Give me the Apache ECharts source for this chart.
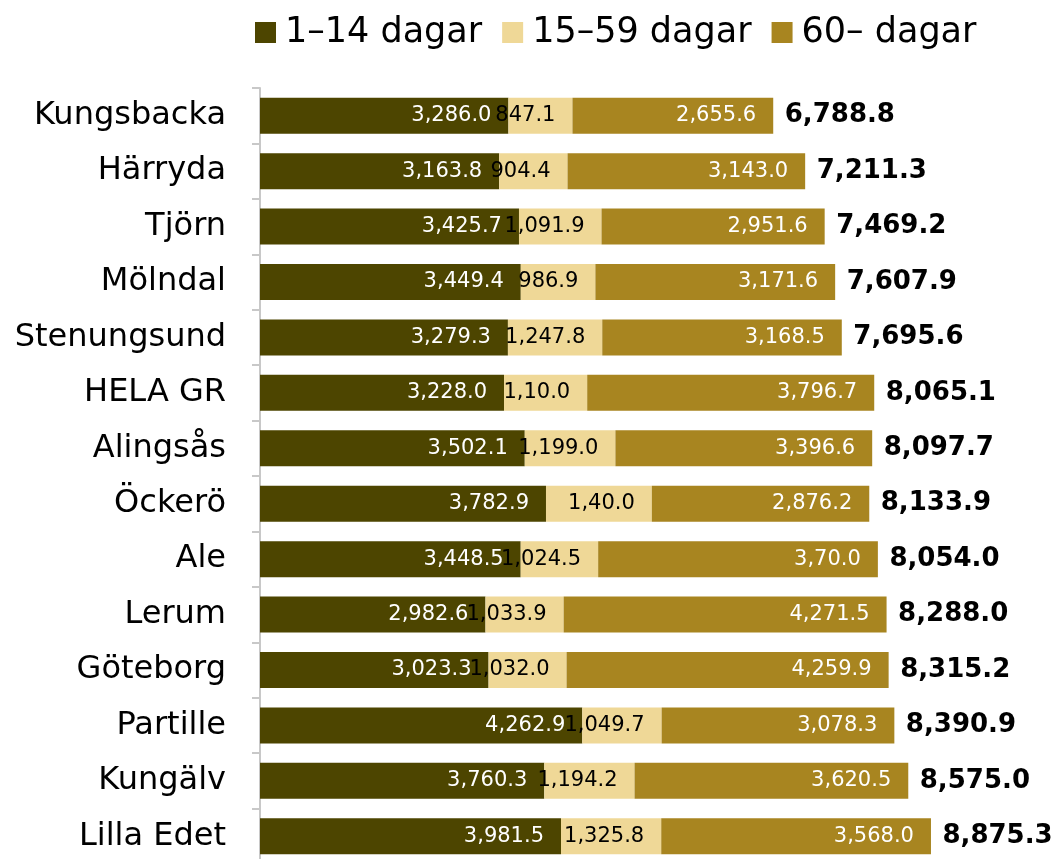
<!DOCTYPE html>
<html>
<head>
<meta charset="utf-8">
<script src="https://cdn.jsdelivr.net/npm/echarts@6/dist/echarts.min.js"></script>
<style>
  html, body { margin: 0; padding: 0; background: #fff; overflow: hidden; }
  #chart { width: 1057px; height: 868px; }
</style>
</head>
<body>
<div id="chart"></div>
<script>
// kommuner, uppifrån och ned
var kommuner = ['Kungsbacka', 'Härryda', 'Tjörn', 'Mölndal', 'Stenungsund', 'HELA GR', 'Alingsås',
  'Öckerö', 'Ale', 'Lerum', 'Göteborg', 'Partille', 'Kungälv', 'Lilla Edet']
var seriesNames = ['1–14 dagar', '15–59 dagar', '60– dagar']
var kort = [3286.0, 3163.8, 3425.7, 3449.4, 3279.3, 3228.0, 3502.1, 3782.9, 3448.5, 2982.6, 3023.3, 4262.9, 3760.3, 3981.5]
var mellan = [847.1, 904.4, 1091.9, 986.9, 1247.8, 1100.0, 1199.0, 1400.0, 1024.5, 1033.9, 1032.0, 1049.7, 1194.2, 1325.8]
var lang = [2655.6, 3143.0, 2951.6, 3171.6, 3168.5, 3796.7, 3396.6, 2876.2, 3700.0, 4271.5, 4259.9, 3078.3, 3620.5, 3568.0]
var totalt = [6788.8, 7211.3, 7469.2, 7607.9, 7695.6, 8065.1, 8097.7, 8133.9, 8054.0, 8288.0, 8315.2, 8390.9, 8575.0, 8875.3]
// etiketter som är felskrivna i originalet
var avvikandeEtiketter = {
  '15–59 dagar': { 'HELA GR': '1,10.0', 'Öckerö': '1,40.0' },
  '60– dagar': { 'Ale': '3,70.0' }
}

var colors = ['#4d4500', '#efd897', '#a88520'] // mörk, ljus, guld
var font = 'DejaVu Sans'

function fmt(v) {
  return v.toLocaleString('en-US', { minimumFractionDigits: 1, maximumFractionDigits: 1 })
}

var myChart = echarts.init(document.getElementById('chart'))

function segment(name, values, color, textColor) {
  return {
    name: name,
    type: 'bar',
    stack: 'tot',
    barWidth: 36,
    data: values,
    itemStyle: { color: color },
    label: {
      show: true,
      position: 'insideRight',
      distance: 17,
      color: textColor,
      fontFamily: font,
      fontSize: 21,
      formatter: function (p) {
        var o = avvikandeEtiketter[name]
        if (o && o[p.name]) return o[p.name]
        return fmt(p.value)
      }
    },
    emphasis: { disabled: true }
  }
}

var ends = kommuner.map(function (k, i) {
  return [kort[i] + mellan[i] + lang[i], k, totalt[i]]
})

myChart.setOption({
  backgroundColor: '#ffffff',
  animation: false,
  textStyle: { fontFamily: font },
  legend: {
    data: seriesNames,
    left: 250,
    top: 10,
    icon: 'rect',
    itemWidth: 21,
    itemHeight: 21,
    itemGap: 20,
    textStyle: { fontFamily: font, fontSize: 35, color: '#000', padding: [0, 0, 0, 4] }
  },
  grid: { left: 260, right: 41, top: 88, height: 776 },
  xAxis: { type: 'value', min: 0, max: 10000, show: false },
  yAxis: {
    type: 'category',
    inverse: true,
    data: kommuner,
    axisLine: { show: true, lineStyle: { color: '#c8c8c8', width: 2 } },
    axisTick: { show: true, length: 8, lineStyle: { color: '#c8c8c8', width: 2 } },
    axisLabel: { color: '#000', fontFamily: font, fontSize: 32, margin: 34 }
  },
  series: [
    segment(seriesNames[0], kort, colors[0], '#ffffff'),
    segment(seriesNames[1], mellan, colors[1], '#000000'),
    segment(seriesNames[2], lang, colors[2], '#ffffff'),
    {
      name: 'Totalt',
      type: 'scatter',
      data: ends,
      symbolSize: 1,
      itemStyle: { color: '#ffffff', opacity: 0 },
      label: {
        show: true,
        position: 'right',
        distance: 11,
        color: '#000000',
        opacity: 1,
        fontFamily: font,
        fontSize: 26,
        fontWeight: 'bold',
        formatter: function (p) { return fmt(p.value[2]) }
      },
      emphasis: { disabled: true },
      z: 5
    }
  ]
})
</script>
</body>
</html>
